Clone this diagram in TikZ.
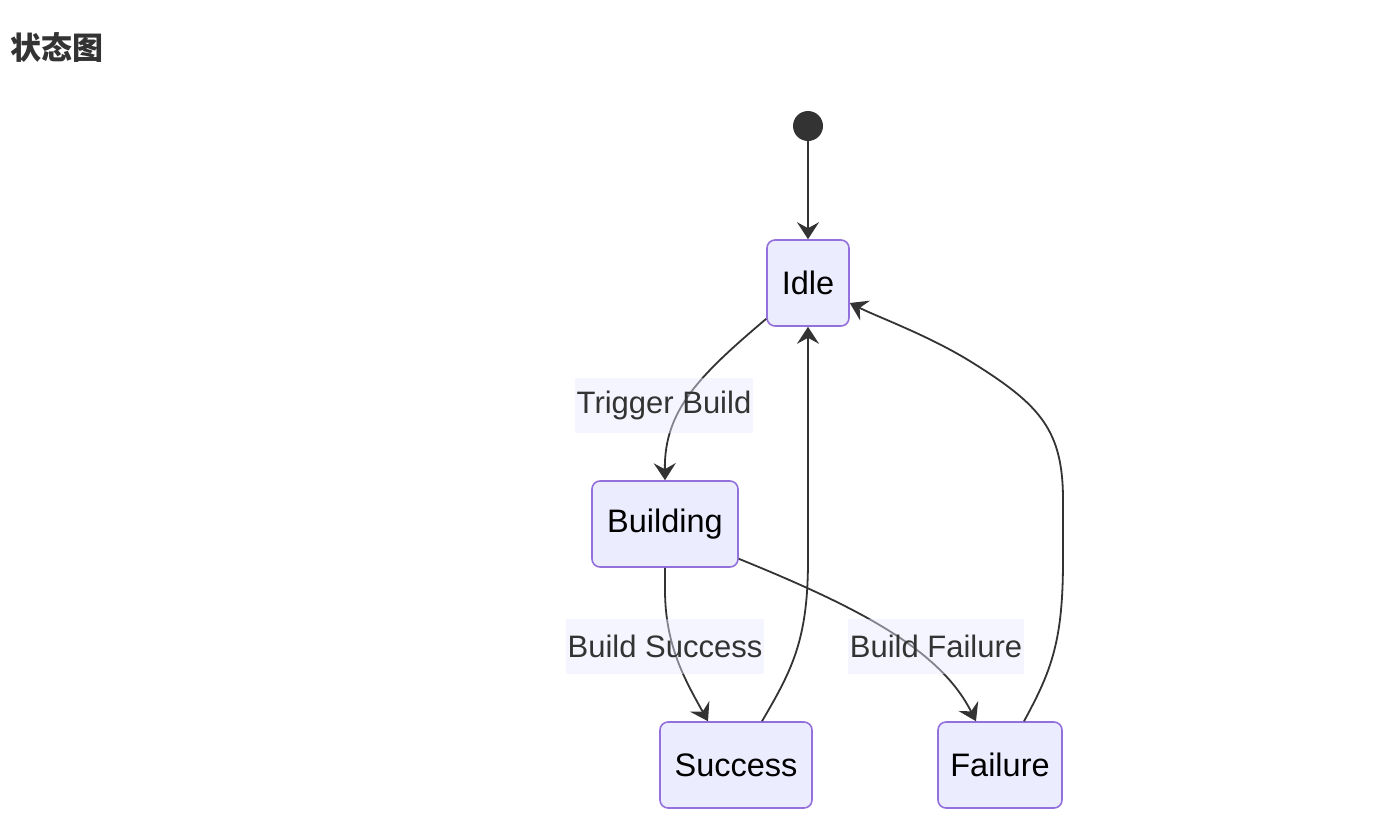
\documentclass[tikz,border=0pt]{standalone}
\usepackage{fontspec}
\setmainfont{Liberation Sans}
\newfontfamily\cjk{Noto Sans CJK SC}
\usetikzlibrary{arrows.meta}
\definecolor{nodefill}{HTML}{ECECFF}
\definecolor{nodedraw}{HTML}{9370DB}
\definecolor{linec}{HTML}{333333}
\definecolor{lblfill}{HTML}{E8E8FF}
\tikzset{
  state/.style={draw=nodedraw, fill=nodefill, line width=1.6pt, rounded corners=8pt,
    minimum height=86pt, inner sep=0pt, font=\fontsize{32.5}{38}\selectfont, text=black},
  startdot/.style={circle, fill=linec, minimum size=30pt, inner sep=0pt},
  edge/.style={draw=linec, line width=1.8pt, -{Stealth[length=17pt,width=22pt,inset=6pt,line width=1.6pt]}},
  lbl/.style={fill=lblfill, fill opacity=0.45, text opacity=1, text=linec, inner xsep=2pt,
    inner ysep=0pt, minimum height=55pt, font=\fontsize{31}{37}\selectfont},
}
\begin{document}
\begin{tikzpicture}[x=1pt,y=-1pt]
\useasboundingbox (0,0) rectangle (1376,830);
\node[anchor=west, text=linec, font=\cjk\bfseries\fontsize{31}{36}\selectfont, inner sep=0pt] (title) at (10,48) {状态图};
\node[startdot] (start) at (808,126) {};
\node[state, minimum width=82pt] (idle) at (808,283) {Idle};
\node[state, minimum width=146pt] (building) at (665,524) {Building};
\node[state, minimum width=152pt] (success) at (736,765) {Success};
\node[state, minimum width=124pt] (failure) at (1000,765) {Failure};

\draw[edge] (start) -- (idle.north);
\draw[edge] ([yshift=8pt]idle.south west) .. controls (700,375) and (664,410) .. (building.north);
\draw[edge] (building.south) -- (665,590) .. controls (665,645) and (685,680) .. ([xshift=-28pt]success.north);
\draw[edge] ([yshift=9pt]building.south east) .. controls (860,608) and (940,650) .. ([xshift=-24pt]failure.north);
\draw[edge] ([xshift=26pt]success.north) .. controls (792,670) and (808,640) .. (808,560) -- (idle.south);
\draw[edge] ([xshift=24pt]failure.north) .. controls (1052,670) and (1063,640) .. (1063,560) -- (1063,500)
   .. controls (1063,430) and (1040,405) .. (973,363) .. controls (930,336) and (880,318) .. ([yshift=-20pt]idle.east);

\node[lbl] (l1) at (664,405) {Trigger Build};
\node[lbl] (l2) at (665,646) {Build Success};
\node[lbl] (l3) at (936,646) {Build Failure};
\end{tikzpicture}
\end{document}
